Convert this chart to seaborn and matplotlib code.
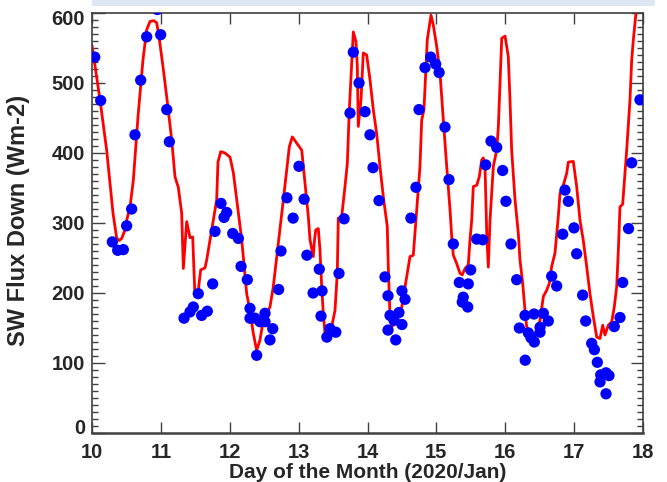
import matplotlib
matplotlib.use("Agg")
import matplotlib.pyplot as plt
import matplotlib.transforms as mtransforms
from matplotlib.ticker import MultipleLocator
import seaborn as sns
import pandas as pd

# ---- data ----
model_day = [10.000, 10.116, 10.213, 10.305, 10.359, 10.396, 10.431, 10.479, 10.504, 10.552,
             10.600, 10.668, 10.740, 10.794, 10.842, 10.900, 10.939, 10.973, 11.031, 11.085,
             11.157, 11.205, 11.253, 11.302, 11.326, 11.375, 11.423, 11.462, 11.495, 11.543,
             11.578, 11.641, 11.665, 11.738, 11.810, 11.829, 11.869, 11.931, 12.004, 12.052,
             12.101, 12.174, 12.246, 12.294, 12.342, 12.391, 12.439, 12.487, 12.512, 12.584,
             12.632, 12.705, 12.778, 12.865, 12.908, 12.972, 13.045, 13.093, 13.141, 13.165,
             13.213, 13.228, 13.248, 13.286, 13.310, 13.335, 13.358, 13.383, 13.431, 13.480,
             13.528, 13.561, 13.576, 13.625, 13.673, 13.707, 13.736, 13.794, 13.833, 13.852,
             13.866, 13.906, 13.939, 13.988, 14.036, 14.084, 14.133, 14.181, 14.229, 14.287,
             14.302, 14.327, 14.351, 14.399, 14.447, 14.497, 14.545, 14.617, 14.665, 14.714,
             14.762, 14.787, 14.820, 14.868, 14.922, 14.955, 15.005, 15.053, 15.101, 15.150,
             15.198, 15.223, 15.246, 15.295, 15.343, 15.376, 15.416, 15.463, 15.488, 15.513,
             15.536, 15.586, 15.623, 15.658, 15.681, 15.706, 15.731, 15.754, 15.779, 15.803,
             15.827, 15.876, 15.900, 15.924, 15.949, 15.997, 16.044, 16.069, 16.093, 16.142,
             16.190, 16.214, 16.253, 16.287, 16.311, 16.359, 16.407, 16.447, 16.505, 16.553,
             16.602, 16.640, 16.674, 16.722, 16.770, 16.795, 16.843, 16.892, 16.916, 16.988,
             17.037, 17.085, 17.133, 17.182, 17.230, 17.279, 17.328, 17.376, 17.415, 17.448,
             17.497, 17.546, 17.583, 17.618, 17.642, 17.666, 17.705, 17.763, 17.811, 17.836,
             17.860, 17.898, 17.956]
model_sw = [554, 476, 404, 314, 278, 275, 278, 290, 304, 323,
            361, 452, 533, 576, 588, 589, 586, 566, 523, 480,
            419, 366, 351, 314, 235, 302, 279, 280, 195, 204,
            233, 236, 247, 290, 333, 387, 402, 400, 394, 372,
            333, 276, 199, 175, 142, 118, 133, 161, 166, 180,
            209, 271, 333, 409, 423, 414, 404, 357, 309, 276,
            252, 273, 290, 292, 261, 209, 171, 142, 147, 152,
            175, 228, 307, 309, 352, 385, 462, 573, 559, 524,
            438, 476, 543, 540, 505, 462, 428, 381, 338, 295,
            237, 166, 152, 156, 166, 180, 209, 252, 254, 319,
            381, 447, 462, 562, 597, 583, 552, 514, 447, 381,
            319, 280, 254, 242, 228, 226, 235, 240, 276, 304,
            352, 354, 366, 390, 393, 381, 285, 237, 304, 343,
            381, 404, 438, 500, 564, 567, 538, 476, 404, 333,
            285, 247, 214, 175, 152, 142, 140, 144, 161, 195,
            204, 214, 238, 257, 309, 342, 354, 371, 387, 388,
            352, 304, 275, 238, 199, 166, 137, 135, 154, 140,
            154, 159, 180, 209, 261, 323, 327, 404, 476, 533,
            562, 600, 633]

obs_day = [10.040, 10.126, 10.295, 10.373, 10.455, 10.503, 10.576, 10.624, 10.707, 10.794,
           10.948, 10.997, 11.085, 11.123, 11.336, 11.423, 11.471, 11.543, 11.592, 11.674,
           11.752, 11.786, 11.873, 11.917, 11.956, 12.043, 12.125, 12.164, 12.255, 12.294,
           12.294, 12.367, 12.391, 12.439, 12.512, 12.512, 12.584, 12.624, 12.710, 12.744,
           12.830, 12.920, 13.005, 13.080, 13.120, 13.210, 13.300, 13.325, 13.340, 13.410,
           13.455, 13.540, 13.586, 13.660, 13.746, 13.794, 13.877, 13.964, 14.036, 14.080,
           14.167, 14.254, 14.298, 14.298, 14.327, 14.385, 14.410, 14.457, 14.500, 14.500,
           14.545, 14.630, 14.704, 14.748, 14.835, 14.917, 14.990, 15.040, 15.125, 15.183,
           15.246, 15.333, 15.376, 15.390, 15.455, 15.463, 15.498, 15.586, 15.673, 15.716,
           15.793, 15.876, 15.962, 16.010, 16.083, 16.166, 16.205, 16.287, 16.290, 16.335,
           16.374, 16.418, 16.422, 16.505, 16.505, 16.553, 16.625, 16.674, 16.747, 16.834,
           16.867, 16.916, 16.998, 17.037, 17.124, 17.168, 17.255, 17.294, 17.337, 17.376,
           17.386, 17.463, 17.463, 17.506, 17.583, 17.666, 17.705, 17.790, 17.836, 17.956]
obs_sw = [537, 475, 273, 261, 262, 296, 320, 426, 504, 566,
          605, 569, 462, 416, 164, 173, 180, 199, 168, 174,
          213, 288, 328, 308, 315, 285, 278, 238, 219, 178,
          164, 164, 111, 159, 171, 159, 133, 149, 205, 260,
          336, 307, 381, 334, 254, 200, 234, 167, 203, 137,
          149, 144, 228, 306, 457, 544, 500, 459, 426, 379,
          332, 223, 196, 147, 168, 161, 133, 172, 155, 203,
          191, 307, 351, 462, 522, 537, 527, 515, 437, 362,
          270, 215, 187, 194, 180, 213, 233, 277, 276, 383,
          417, 408, 375, 331, 270, 219, 150, 168, 104, 143,
          136, 170, 130, 151, 144, 171, 160, 224, 210, 284,
          347, 331, 293, 256, 197, 160, 128, 119, 101, 73,
          83, 86, 56, 82, 152, 165, 215, 292, 386, 476]

x_ticks = [10, 11, 12, 13, 14, 15, 16, 17, 18]
y_ticks = [0, 100, 200, 300, 400, 500, 600]
x_label = "Day of the Month (2020/Jan)"
y_label = "SW Flux Down (Wm-2)"

model_df = pd.DataFrame({"day": model_day, "sw": model_sw})
obs_df = pd.DataFrame({"day": obs_day, "sw": obs_sw})

# ---- style ----
sns.set_style("ticks")
plt.rcParams["font.family"] = ["Liberation Sans", "DejaVu Sans"]
plt.rcParams["font.weight"] = "bold"

fig = plt.figure(figsize=(6.67, 4.82), dpi=100)
ax = fig.add_axes([92 / 667, 1 - 433 / 482, (643 - 92) / 667, (433 - 13) / 482])

# light band at the top (title background)
fig.patches.append(plt.Rectangle((92 / 667, 1 - 6 / 482), (655 - 92) / 667, 6 / 482,
                                 transform=fig.transFigure, facecolor="#dde8f4",
                                 edgecolor="none", zorder=0))

sns.lineplot(data=model_df, x="day", y="sw", ax=ax, color="#ff0000", linewidth=2.0,
             sort=False, estimator=None, zorder=2)
sns.scatterplot(data=obs_df, x="day", y="sw", ax=ax, color="#0000ff", s=66,
                edgecolor="none", linewidth=0, zorder=3)

ax.set_xlim(10, 18)
ax.set_ylim(0, 600)
ax.set_xticks(x_ticks)
ax.set_yticks(y_ticks)
ax.set_xticklabels([str(t) for t in x_ticks])
ax.set_yticklabels([str(t) for t in y_ticks])
ax.yaxis.set_minor_locator(MultipleLocator(10))

ax.tick_params(axis="both", which="major", direction="in", top=True, right=True,
               color="#404040", width=1.0, labelsize=14.5)
ax.tick_params(axis="y", which="major", length=9, pad=5)
ax.tick_params(axis="x", which="major", length=8, pad=7)
ax.tick_params(axis="y", which="minor", direction="in", left=True, right=True,
               length=4.5, width=1.0, color="#404040")
ax.tick_params(axis="x", which="minor", bottom=False, top=False)

for sp in ax.spines.values():
    sp.set_color("#404040")
    sp.set_linewidth(1.2)
ax.spines["bottom"].set_linewidth(1.8)

for lab in ax.get_xticklabels() + ax.get_yticklabels():
    lab.set_fontweight("bold")

# shift the end labels of the y axis inward, as in the reference
ylabs = ax.get_yticklabels()
ylabs[-1].set_transform(ylabs[-1].get_transform() +
                        mtransforms.ScaledTranslation(0, -5 / 100, fig.dpi_scale_trans))
ylabs[0].set_transform(ylabs[0].get_transform() +
                       mtransforms.ScaledTranslation(0, 6 / 100, fig.dpi_scale_trans))

ax.set_xlabel(x_label, fontsize=15, fontweight="bold", linespacing=1.0)
ax.xaxis.set_label_coords(0.5, -0.072)
ax.xaxis.label.set_va("top")
ax.set_ylabel(y_label, fontsize=17, fontweight="bold")
ax.yaxis.set_label_coords(-0.113, 0.507)

fig.savefig("out.png", dpi=100)
